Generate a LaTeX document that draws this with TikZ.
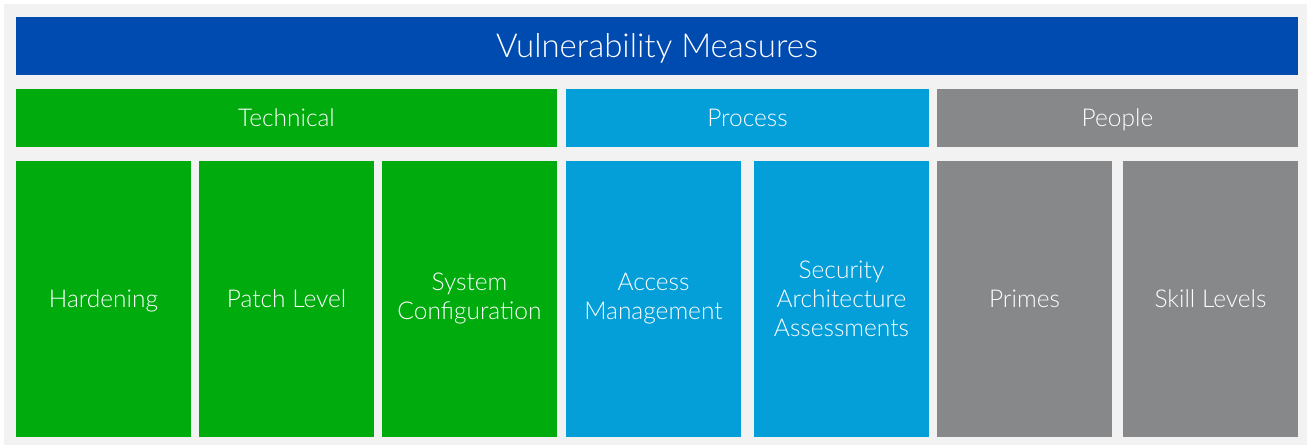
\documentclass[tikz,border=0pt]{standalone}
\usepackage{fontspec}
\setmainfont{Lato Light}
\usepackage{xcolor}
\usepackage{tikz}

\definecolor{measureblue}{RGB}{0,75,175}
\definecolor{techgreen}{RGB}{0,171,14}
\definecolor{processblue}{RGB}{4,159,217}
\definecolor{peoplegray}{RGB}{135,136,138}
\definecolor{backgray}{RGB}{242,242,242}

\begin{document}
\begin{tikzpicture}[x=1pt, y=-1pt,
  box/.style={inner sep=0pt, text=white, align=center, font=\fontsize{24.5}{29}\selectfont},
  oneline/.style={text height=17.6pt, text depth=0pt},
  headbox/.style={box, oneline, minimum height=58pt},
  itembox/.style={box, minimum width=175pt, minimum height=276pt}]
% Define sizes
\def\itemy{299}
\def\heady{118}

% Background
\useasboundingbox (0,0) rectangle (1307,445);
\fill[backgray] (4,4) rectangle (1307,445);

% Title bar
\node[headbox, fill=measureblue, minimum width=1282pt, font=\fontsize{33}{38}\selectfont, text height=23.7pt] (measures) at (657,46) {Vulnerability Measures};

% Categories
\node[headbox, fill=techgreen, minimum width=541pt] (technical) at (286.5,\heady) {Technical};
\node[headbox, fill=processblue, minimum width=363pt] (process) at (747.5,\heady) {Process};
\node[headbox, fill=peoplegray, minimum width=361pt] (people) at (1117.5,\heady) {People};

% Technical measures
\node[itembox, oneline, fill=techgreen] (hardening) at (103.5,\itemy) {Hardening};
\node[itembox, oneline, fill=techgreen] (patch) at (286.5,\itemy) {Patch Level};
\node[itembox, fill=techgreen] (config) at (469.5,\itemy) {System\\Configuration};

% Process measures
\node[itembox, fill=processblue] (access) at (653.5,\itemy) {Access\\Management};
\node[itembox, fill=processblue] (security) at (841.5,\itemy) {Security\\Architecture\\Assessments};

% People measures
\node[itembox, oneline, fill=peoplegray] (primes) at (1024.5,\itemy) {Primes};
\node[itembox, oneline, fill=peoplegray] (skills) at (1210.5,\itemy) {Skill Levels};

\end{tikzpicture}
\end{document}
